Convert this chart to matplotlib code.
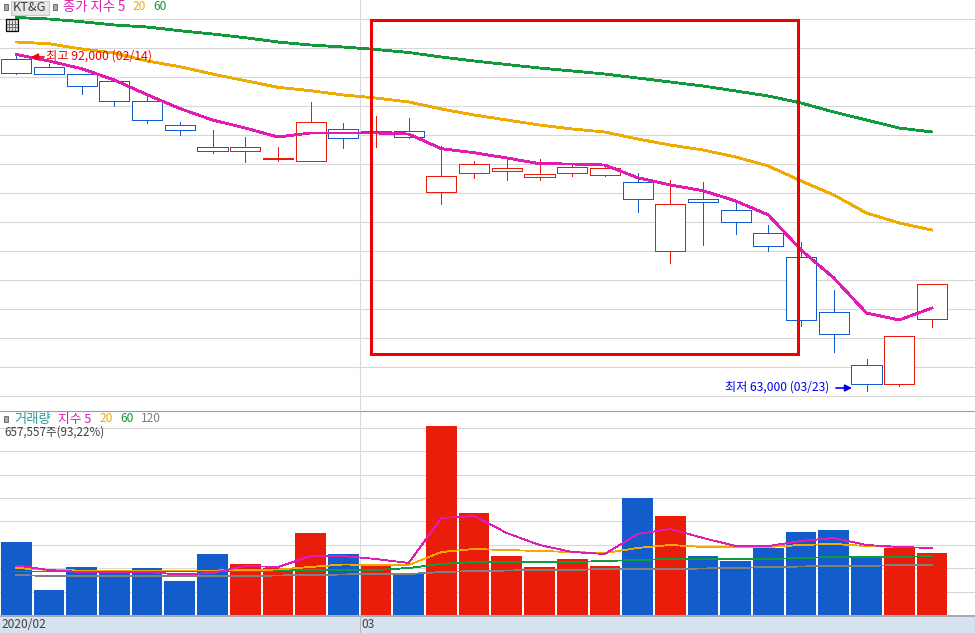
import matplotlib
matplotlib.use("Agg")
import matplotlib.pyplot as plt
from matplotlib.patches import Rectangle
import numpy as np

plt.rcParams['font.family'] = ['Noto Sans CJK KR', 'DejaVu Sans']

# ---------- data ----------
opens = [91600,90900,90300,89700,88000,85900,84000,83700,83000,82800,85600,85300,85400,80100,81800,
         81900,81400,81800,81600,81000,75000,79500,78600,76600,74500,69800,65200,63600,69200]
closes = [90400,90300,89300,88000,86300,85500,83700,84000,83100,86200,84800,85400,84900,81500,82500,
          82200,81700,82300,82200,79500,79100,79300,77500,75500,69100,67900,63600,67700,72200]
highs = [92000,91200,90300,89700,88500,86200,85500,84900,84000,87900,86100,86700,86500,84100,82800,
         83100,83000,82600,82500,81800,81200,81000,79300,77300,75800,71700,65700,67700,72200]
lows = [90300,90300,88600,87500,86100,85000,83500,82700,82800,82800,83900,84000,84800,79100,81300,
        81200,81200,81500,81500,78400,74000,75600,76500,75000,68600,66300,63000,63400,68500]
price_ma5 = [91980,91420,90756,89782,88515,87325,86334,85644,84869,85213,85213,85213,85127,83860,83515,
             83058,82567,82541,82455,81360,80731,80240,79352,78145,75128,72714,69697,69094,70128]
price_ma20 = [93058,92911,92454,92109,91420,90928,90299,89722,89153,88860,88489,88230,87886,87282,86765,
              86334,85903,85558,85300,84696,84179,83748,83145,82369,81076,79869,78317,77455,76852]
price_ma60 = [95170,95040,94807,94523,94351,94032,93747,93428,93058,92799,92627,92411,92153,91765,91420,
              91118,90816,90558,90299,89954,89610,89265,88834,88403,87799,87024,86334,85644,85300]
volume = [780000,267000,513000,481000,502000,363000,652000,545000,507000,876000,652000,534000,449000,
          2019000,1090000,630000,513000,598000,524000,1250000,1058000,630000,577000,716000,887000,908000,
          620000,716000,657557]
vol_ma5 = [529,481,459,459,459,433,449,524,513,630,630,598,556,1036,1058,876,748,673,652,865,919,823,737,737,
           791,823,748,727,716]
vol_ma20 = [502,481,475,475,475,475,475,481,486,513,540,534,534,673,705,694,684,673,662,716,748,727,727,727,
            748,759,737,727,716]
vol_ma60 = [465,465,470,470,470,470,470,470,475,481,481,481,502,545,566,566,566,566,577,588,598,598,598,598,
            609,620,620,620,630]
vol_ma120 = [427,417,417,417,417,417,417,417,422,427,433,438,438,459,470,475,481,481,491,491,491,497,502,513,
             518,524,524,534,534]
price_ticks = list(range(62500, 95001, 2500))
volume_ticks = list(range(0, 2000001, 250000))
date_labels = ["2020/02", "03"]
high_note = "최고 92,000 (02/14)"
low_note = "최저 63,000 (03/23)"
vol_note = "657,557주(93,22%)"

# ---------- colours ----------
BLUE = "#125CCB"; RED = "#EA1C0A"; MAG = "#E01CB4"; ORG = "#F0AA00"
GRN = "#109A3C"; GRY = "#808080"; GRID = "#D8D8D8"; DIV = "#9C9C9C"

W, H = 975, 633
fig = plt.figure(figsize=(W/100, H/100), dpi=100, facecolor="white")
def box(top, bottom):
    return [0, 1-bottom/H, 1, (bottom-top)/H]

x = np.arange(len(closes))
xlim = (-16.3/32.7, (975-16.3)/32.7)

ax = fig.add_axes(box(0, 410))
ax.set_xlim(xlim); ax.set_ylim(61336, 96678)
vx = fig.add_axes(box(411, 615))
vx.set_xlim(xlim); vx.set_ylim(0, 2179500)
for a in (ax, vx):
    a.set_xticks([]); a.set_yticks([])
    a.patch.set_alpha(0)
    for s in a.spines.values():
        s.set_visible(False)
    a.axvline(10.5, color=GRID, lw=0.8, zorder=1)

for p in price_ticks:
    ax.axhline(p, color=GRID, lw=0.8, zorder=1)
for v in volume_ticks[1:]:
    vx.axhline(v, color=GRID, lw=0.8, zorder=1)

# candles
for i in x:
    c = RED if closes[i] >= opens[i] else BLUE
    ax.vlines(i, lows[i], highs[i], color=c, lw=0.72, zorder=2, antialiased=False)
    lo, hi = sorted((opens[i], closes[i]))
    ax.bar(i, hi-lo, bottom=lo, width=0.92, facecolor="white", edgecolor=c, linewidth=0.72,
           zorder=3, antialiased=False)

ax.plot(x, price_ma60, color=GRN, lw=1.3, zorder=4, antialiased=False)
ax.plot(x, price_ma20, color=ORG, lw=1.3, zorder=4, antialiased=False)
ax.plot(x, price_ma5, color=MAG, lw=1.3, zorder=5, antialiased=False)

# volume
vx.bar(x, volume, width=0.94, color=[RED if closes[i] >= opens[i] else BLUE for i in x],
       zorder=2, antialiased=False)
k = 1000
vx.plot(x, np.array(vol_ma120)*k, color=GRY, lw=0.6, zorder=3, antialiased=False)
vx.plot(x, np.array(vol_ma60)*k, color=GRN, lw=0.6, zorder=4, antialiased=False)
vx.plot(x, np.array(vol_ma20)*k, color=ORG, lw=0.6, zorder=5, antialiased=False)
vx.plot(x, np.array(vol_ma5)*k, color=MAG, lw=0.6, zorder=6, antialiased=False)

# frame pieces, in figure pixels
def rect(px, py, w, h, **kw):
    r = Rectangle((px/W, 1-(py+h)/H), w/W, h/H, transform=fig.transFigure, **kw)
    fig.add_artist(r)
    return r
def line(x0, y0, x1, y1, **kw):
    fig.add_artist(plt.Line2D([x0/W, x1/W], [1-y0/H, 1-y1/H], transform=fig.transFigure, **kw))
def label(px, py, s, color, size=8.6, **kw):
    fig.text(px/W, 1-py/H, s, color=color, fontsize=size, va="center", ha="left", zorder=20, **kw)

rect(0, 615, W, 18, facecolor="#D6E2F0", edgecolor="none", zorder=6)
line(0, 410.5, W, 410.5, color=DIV, lw=0.8, zorder=7)
line(0, 615.5, W, 615.5, color=DIV, lw=1.1, zorder=7)
line(359.5, 615, 359.5, 633, color="#B8B8B8", lw=0.8, zorder=7)
label(2, 624.5, date_labels[0], "#404040")
label(361, 624.5, date_labels[1], "#404040")

# annotation rectangle
rect(370.5, 20, 427.5, 334, fill=False, edgecolor="#F00000", linewidth=2.1, zorder=10, antialiased=False)

# top legend
rect(3.5, 4, 4, 6, facecolor="#A8A8A8", edgecolor="#707070", lw=0.7, zorder=11)
rect(10.5, 0.5, 38, 14, facecolor="#E8E8E8", edgecolor="#C8C8C8", lw=0.8, zorder=11)
label(13, 7.5, "KT&G", "#404040", size=9.2)
rect(53, 4, 4, 6, facecolor="#A8A8A8", edgecolor="#707070", lw=0.7, zorder=11)
label(63, 7, "종가 지수 5", MAG, size=9.6)
label(133, 7, "20", ORG)
label(153, 7, "60", GRN)

# table icon
rect(5.5, 18.5, 12.5, 12.5, facecolor="#E0E0E0", edgecolor="black", lw=0.9, zorder=11)
for d in (3, 6.5, 9.5):
    line(5.5+d, 20, 5.5+d, 30, color="#707070", lw=0.7, zorder=12)
for d in (5, 8):
    line(7, 18.5+d, 17, 18.5+d, color="#707070", lw=0.7, zorder=12)

# high / low notes
label(46, 56, high_note, "#F00000", size=8.85)
ax.annotate("", xy=(31/W, 1-57/H), xycoords="figure fraction", xytext=(44/W, 1-57/H),
            textcoords="figure fraction",
            arrowprops=dict(arrowstyle="-|>", color="#F00000", lw=1.2, mutation_scale=10, shrinkA=0, shrinkB=0),
            zorder=12)
label(725, 387.5, low_note, "#0000F0", size=8.7)
ax.annotate("", xy=(852/W, 1-388/H), xycoords="figure fraction", xytext=(836/W, 1-388/H),
            textcoords="figure fraction",
            arrowprops=dict(arrowstyle="-|>", color="#0000F0", lw=1.2, mutation_scale=10, shrinkA=0, shrinkB=0),
            zorder=12)

# volume legend
rect(3.5, 416, 4, 6, facecolor="#A8A8A8", edgecolor="#707070", lw=0.7, zorder=11)
label(14, 419, "거래량", "#2E9A9A", size=9.6)
label(58, 419, "지수 5", MAG, size=9.2)
label(100, 419, "20", ORG)
label(120, 419, "60", GRN)
label(141, 419, "120", GRY)
label(4, 432.5, vol_note, "#404040", size=8.35)

fig.savefig("out.png", dpi=100, facecolor="white")
